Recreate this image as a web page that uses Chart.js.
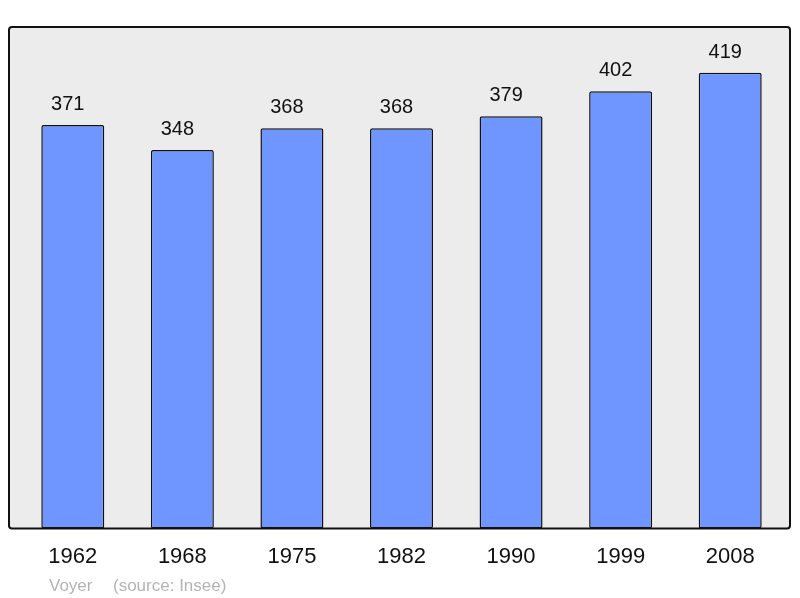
<!DOCTYPE html>
<html lang="fr">
  <head>
    <meta charset="UTF-8" />
    <title>population</title>
    <style>
      body {
        margin: 0;
        background: #ffffff;
      }
      .wrap {
        width: 800px;
        height: 598px;
      }
    </style>
    <script src="https://cdn.jsdelivr.net/npm/chart.js"></script>
  </head>
  <body>
    <div class="wrap"><canvas id="popChart" width="800" height="598"></canvas></div>

    <script>
      const years = ["1962", "1968", "1975", "1982", "1990", "1999", "2008"];
      const population = [371, 348, 368, 368, 379, 402, 419];
      const footerLeft = "Voyer";
      const footerRight = "(source: Insee)";

      // grey frame behind the bars
      const frame = {
        id: "frame",
        beforeDraw(chart) {
          const { ctx, chartArea: a } = chart;
          const x = a.left - 9, y = a.top, w = a.right + 5 - x, h = a.bottom - a.top;
          ctx.save();
          ctx.fillStyle = "#ececec";
          ctx.strokeStyle = "#111";
          ctx.lineWidth = 2;
          ctx.beginPath();
          ctx.roundRect(x, y, w, h, 3);
          ctx.fill();
          ctx.stroke();
          ctx.restore();
        },
      };

      // value above each bar + source line
      const labels = {
        id: "labels",
        afterDatasetsDraw(chart) {
          const { ctx } = chart;
          const meta = chart.getDatasetMeta(0);
          ctx.save();
          ctx.font = "20px 'Liberation Sans', Arial, sans-serif";
          ctx.fillStyle = "#111";
          ctx.textAlign = "center";
          ctx.textBaseline = "alphabetic";
          meta.data.forEach((bar, i) => {
            ctx.fillText(String(population[i]), bar.x - 5, bar.y - 15);
          });
          ctx.font = "17px 'Liberation Sans', Arial, sans-serif";
          ctx.fillStyle = "#b4b4b4";
          ctx.textAlign = "left";
          ctx.fillText(footerLeft, 49, 591);
          ctx.fillText(footerRight, 113, 591);
          ctx.restore();
        },
      };

      new Chart(document.getElementById("popChart"), {
        type: "bar",
        data: {
          labels: years,
          datasets: [
            {
              data: population,
              backgroundColor: "#6f96ff",
              borderColor: "#111",
              borderWidth: 1.5,
              borderRadius: 2,
              borderSkipped: false,
              barPercentage: 0.575,
              categoryPercentage: 1,
            },
          ],
        },
        options: {
          responsive: false,
          animation: false,
          layout: { padding: { top: 27, left: 18, right: 15, bottom: 13 } },
          plugins: {
            legend: { display: false },
            tooltip: { enabled: false },
          },
          scales: {
            y: {
              display: false,
              min: 0,
              max: 461,
            },
            x: {
              grid: { display: false, drawTicks: false },
              border: { display: false },
              ticks: {
                color: "#111",
                padding: 15,
                font: { family: "'Liberation Sans', Arial, sans-serif", size: 22 },
              },
            },
          },
        },
        plugins: [frame, labels],
      });
    </script>
  </body>
</html>
